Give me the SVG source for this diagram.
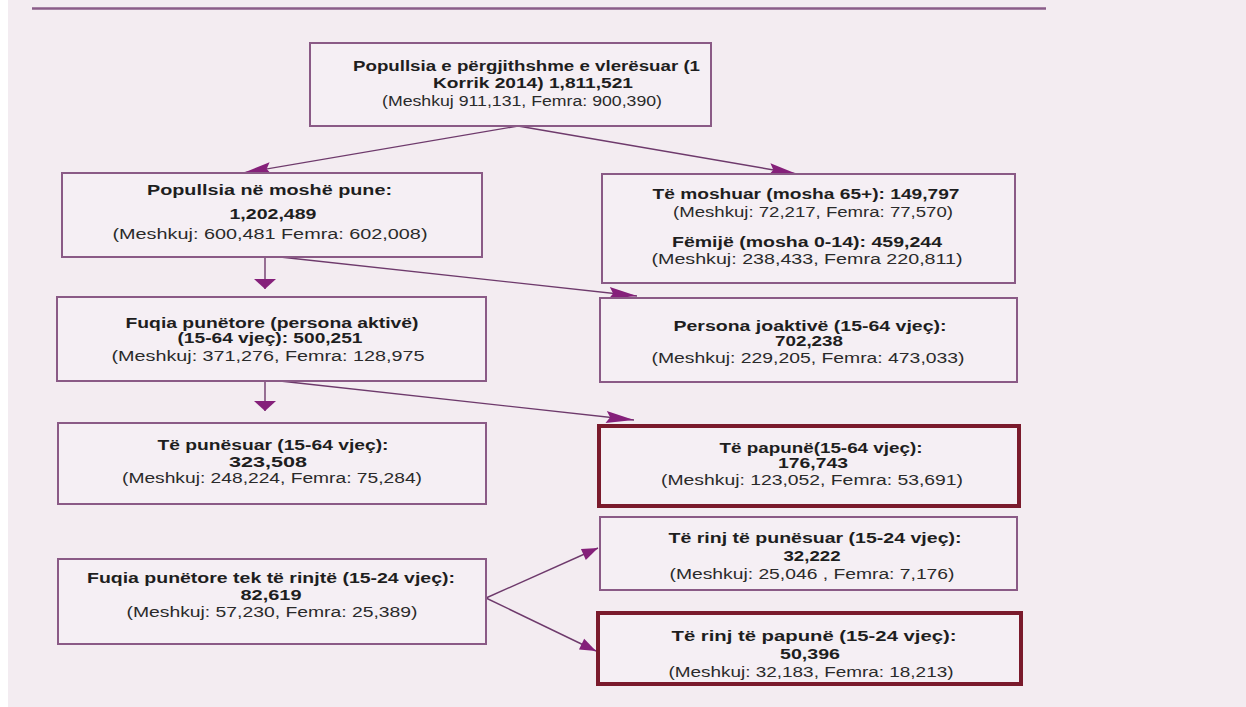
<svg xmlns="http://www.w3.org/2000/svg" width="1246" height="707" viewBox="0 0 1246 707">
<style>
.box{fill:#f5eff4;stroke:#8a5a86;stroke-width:2}
.red{fill:#f5eff4;stroke:#7a1a2c;stroke-width:4}
.b{font-family:"Liberation Sans",Arial,sans-serif;font-weight:bold;font-size:14.5px;fill:#1e1e1e;text-anchor:middle}
.r{font-family:"Liberation Sans",Arial,sans-serif;font-size:14px;fill:#2a2a2a;text-anchor:middle}
.ln{stroke:#6e3a6c;stroke-width:1.4;fill:none}
</style>
<defs>
<marker id="aD" markerUnits="userSpaceOnUse" markerWidth="40" markerHeight="20" refX="0" refY="0" orient="auto" overflow="visible"><path d="M0,0 L-28,-6 L-24,0 L-28,6 z" fill="#85207a"/></marker>
<marker id="aV" markerUnits="userSpaceOnUse" markerWidth="20" markerHeight="30" refX="0" refY="0" orient="auto" overflow="visible"><path d="M0,0 L-10,-11 L-10,11 z" fill="#85207a"/></marker>
<marker id="aS" markerUnits="userSpaceOnUse" markerWidth="20" markerHeight="20" refX="0" refY="0" orient="auto" overflow="visible"><path d="M0,0 L-16,-6 L-16,6 z" fill="#85207a"/></marker>
</defs>
<rect x="0" y="0" width="1246" height="707" fill="#ffffff"/>
<rect x="8" y="0" width="1238" height="707" fill="#f3ecf1"/>
<line x1="32" y1="8.5" x2="1046" y2="8.5" stroke="#8a5c88" stroke-width="2.5"/>

<g id="connectors">
<line class="ln" x1="518" y1="126" x2="243" y2="173" marker-end="url(#aD)"/>
<line class="ln" x1="518" y1="126" x2="797" y2="174" marker-end="url(#aD)"/>
<line class="ln" x1="265" y1="257" x2="265" y2="289" marker-end="url(#aV)"/>
<line class="ln" x1="280" y1="257" x2="637" y2="296" marker-end="url(#aD)"/>
<line class="ln" x1="265" y1="381" x2="265" y2="411" marker-end="url(#aV)"/>
<line class="ln" x1="280" y1="381" x2="634" y2="420" marker-end="url(#aD)"/>
<line class="ln" x1="486" y1="598" x2="598" y2="548" marker-end="url(#aS)"/>
<line class="ln" x1="486" y1="598" x2="596" y2="651" marker-end="url(#aS)"/>
</g>

<g id="n-total">
<rect class="box" x="310" y="43" width="401" height="83"/>
<text class="b" x="526.5" y="71" textLength="347" lengthAdjust="spacingAndGlyphs">Popullsia e përgjithshme e vlerësuar (1</text>
<text class="b" x="533" y="88" textLength="200" lengthAdjust="spacingAndGlyphs">Korrik 2014) 1,811,521</text>
<text class="r" x="522" y="106" textLength="280" lengthAdjust="spacingAndGlyphs">(Meshkuj 911,131, Femra: 900,390)</text>
</g>

<g id="n-working-age">
<rect class="box" x="62" y="173" width="420" height="84"/>
<text class="b" x="269.5" y="195" textLength="245" lengthAdjust="spacingAndGlyphs">Popullsia në moshë pune:</text>
<text class="b" x="273" y="219" textLength="87" lengthAdjust="spacingAndGlyphs">1,202,489</text>
<text class="r" x="270" y="239" textLength="315" lengthAdjust="spacingAndGlyphs">(Meshkuj: 600,481  Femra: 602,008)</text>
</g>

<g id="n-elderly-children">
<rect class="box" x="602" y="174" width="413" height="109"/>
<text class="b" x="806" y="199" textLength="307" lengthAdjust="spacingAndGlyphs">Të moshuar (mosha 65+): 149,797</text>
<text class="r" x="813" y="217" textLength="280" lengthAdjust="spacingAndGlyphs">(Meshkuj: 72,217, Femra: 77,570)</text>
<text class="b" x="807" y="247" textLength="270" lengthAdjust="spacingAndGlyphs">Fëmijë (mosha 0-14): 459,244</text>
<text class="r" x="807" y="264" textLength="311" lengthAdjust="spacingAndGlyphs">(Meshkuj: 238,433, Femra 220,811)</text>
</g>

<g id="n-labour-force">
<rect class="box" x="57" y="297" width="429" height="84"/>
<text class="b" x="272" y="328" textLength="293" lengthAdjust="spacingAndGlyphs">Fuqia punëtore (persona aktivë)</text>
<text class="b" x="270" y="343" textLength="185" lengthAdjust="spacingAndGlyphs">(15-64 vjeç): 500,251</text>
<text class="r" x="268" y="361" textLength="313" lengthAdjust="spacingAndGlyphs">(Meshkuj: 371,276, Femra: 128,975</text>
</g>

<g id="n-inactive">
<rect class="box" x="600" y="298" width="417" height="84"/>
<text class="b" x="810" y="331" textLength="273" lengthAdjust="spacingAndGlyphs">Persona joaktivë (15-64 vjeç):</text>
<text class="b" x="809" y="346" textLength="68" lengthAdjust="spacingAndGlyphs">702,238</text>
<text class="r" x="808" y="363" textLength="313" lengthAdjust="spacingAndGlyphs">(Meshkuj: 229,205, Femra: 473,033)</text>
</g>

<g id="n-employed">
<rect class="box" x="58" y="423" width="428" height="81"/>
<text class="b" x="273" y="450" textLength="231" lengthAdjust="spacingAndGlyphs">Të punësuar (15-64 vjeç):</text>
<text class="b" x="268" y="467" textLength="78" lengthAdjust="spacingAndGlyphs">323,508</text>
<text class="r" x="272" y="483" textLength="300" lengthAdjust="spacingAndGlyphs">(Meshkuj: 248,224, Femra: 75,284)</text>
</g>

<g id="n-unemployed">
<rect class="red" x="599" y="426" width="420" height="80"/>
<text class="b" x="821" y="453" textLength="203" lengthAdjust="spacingAndGlyphs">Të papunë(15-64 vjeç):</text>
<text class="b" x="813" y="468" textLength="70" lengthAdjust="spacingAndGlyphs">176,743</text>
<text class="r" x="812" y="485" textLength="302" lengthAdjust="spacingAndGlyphs">(Meshkuj: 123,052, Femra: 53,691)</text>
</g>

<g id="n-youth-labour">
<rect class="box" x="58" y="559" width="428" height="85"/>
<text class="b" x="271" y="583" textLength="368" lengthAdjust="spacingAndGlyphs">Fuqia punëtore tek të rinjtë (15-24 vjeç):</text>
<text class="b" x="271" y="600" textLength="61" lengthAdjust="spacingAndGlyphs">82,619</text>
<text class="r" x="272" y="617" textLength="291" lengthAdjust="spacingAndGlyphs">(Meshkuj: 57,230, Femra: 25,389)</text>
</g>

<g id="n-youth-employed">
<rect class="box" x="600" y="517" width="417" height="73"/>
<text class="b" x="815" y="543" textLength="293" lengthAdjust="spacingAndGlyphs">Të rinj të punësuar (15-24 vjeç):</text>
<text class="b" x="812" y="561" textLength="57" lengthAdjust="spacingAndGlyphs">32,222</text>
<text class="r" x="812" y="579" textLength="285" lengthAdjust="spacingAndGlyphs">(Meshkuj: 25,046 , Femra: 7,176)</text>
</g>

<g id="n-youth-unemployed">
<rect class="red" x="598" y="613" width="423" height="71"/>
<text class="b" x="814" y="641" textLength="285" lengthAdjust="spacingAndGlyphs">Të rinj të papunë (15-24 vjeç):</text>
<text class="b" x="810" y="659" textLength="60" lengthAdjust="spacingAndGlyphs">50,396</text>
<text class="r" x="811" y="677" textLength="285" lengthAdjust="spacingAndGlyphs">(Meshkuj: 32,183, Femra: 18,213)</text>
</g>
</svg>
